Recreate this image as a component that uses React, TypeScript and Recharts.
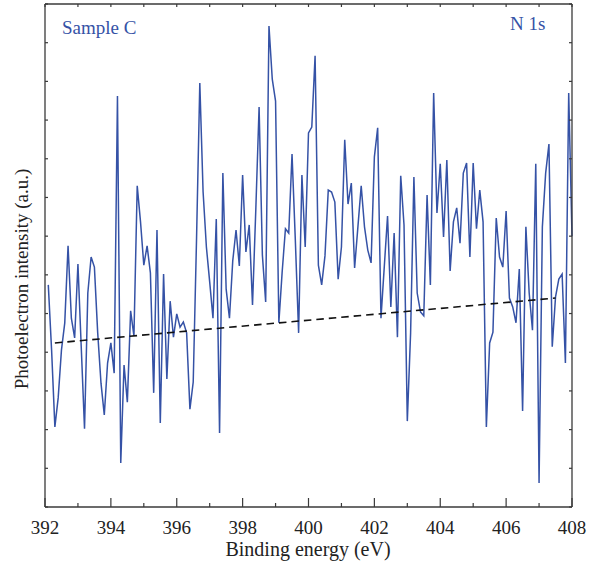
import { LineChart, Line, XAxis, YAxis } from "recharts"

// N 1s scan, 392.1 → 408.0 eV in 0.1 eV steps
const startEnergy = 392.1
const stepEnergy = 0.1
const intensity = [
  57.4, 40.6, 20.7, 28.2, 40.6, 47.6, 67.5, 48.8, 43.7, 62.8,
  41.4, 20.2, 55.3, 64.6, 62.0, 45.0, 32.0, 23.8, 37.2, 42.4,
  34.6, 106.2, 11.4, 36.7, 27.1, 50.7, 44.2, 83.0, 73.7, 62.5,
  67.5, 60.5, 29.5, 71.6, 21.7, 60.2, 33.1, 53.2, 43.9, 49.9,
  46.5, 47.8, 45.0, 25.3, 32.3, 69.0, 109.6, 81.4, 67.2, 58.2,
  48.8, 74.4, 19.1, 86.3, 56.3, 48.8, 63.6, 71.6, 62.3, 85.8,
  65.9, 72.9, 52.2, 76.8, 103.4, 65.1, 53.0, 124.3, 110.6, 104.9,
  47.6, 60.7, 71.9, 70.8, 91.2, 69.0, 45.0, 85.8, 67.2, 96.7,
  98.2, 116.6, 62.5, 57.4, 64.9, 81.9, 81.4, 78.8, 58.9, 67.2,
  94.9, 78.3, 83.7, 61.8, 72.4, 83.0, 72.4, 66.4, 63.1, 90.5,
  98.0, 48.8, 62.0, 75.2, 51.7, 70.8, 43.9, 85.6, 72.9, 22.2,
  45.0, 85.3, 55.3, 50.4, 49.4, 80.6, 57.4, 107.0, 76.0, 88.7,
  69.8, 89.7, 61.0, 73.7, 77.3, 68.2, 86.3, 88.9, 64.6, 88.9,
  71.9, 81.9, 73.7, 20.7, 42.4, 45.2, 74.7, 64.6, 62.0, 76.5,
  54.0, 51.7, 47.6, 61.5, 24.8, 72.4, 55.3, 45.7, 88.7, 6.2,
  72.4, 86.3, 93.8, 41.4, 54.3, 58.9, 60.2, 37.2, 107.0, 70.0,
]

// linear background under the peak region
const baselineEnergy = [392.3, 407.5]
const baselineValue = [42.4, 54.0]

const xTicks = [392, 393, 394, 395, 396, 397, 398, 399, 400, 401, 402, 403, 404, 405, 406, 407, 408]
const yTicks = [0, 10, 20, 30, 40, 50, 60, 70, 80, 90, 100, 110, 120, 130]

const data = intensity.map((v, i) => ({
  e: Number((startEnergy + i * stepEnergy).toFixed(1)),
  v,
}))
const baseline = baselineEnergy.map((e, i) => ({ e, v: baselineValue[i] }))

const FRAME = "#3a3a3a"
const BLUE = "#3552a6"
const FONT = "'Times New Roman', 'Liberation Serif', 'DejaVu Serif', 'Noto Serif', serif"

function BottomTick({ x, y, payload }: any) {
  const major = payload.value % 2 === 0
  return (
    <g>
      <line x1={x} x2={x} y1={y} y2={y - (major ? 9 : 4)} stroke={FRAME} strokeWidth={1.2} />
      {major && (
        <text x={x} y={y + 27} textAnchor="middle" fontSize={19} fontFamily={FONT} fill="#222">
          {payload.value}
        </text>
      )}
    </g>
  )
}

function TopTick({ x, y }: any) {
  return <line x1={x} x2={x} y1={y} y2={y + 3} stroke={FRAME} strokeWidth={1.2} />
}

function LeftTick({ x, y }: any) {
  return <line x1={x} x2={x + 3} y1={y} y2={y} stroke={FRAME} strokeWidth={1.2} />
}

function RightTick({ x, y }: any) {
  return <line x1={x} x2={x - 3} y1={y} y2={y} stroke={FRAME} strokeWidth={1.2} />
}

export default function App() {
  return (
    <div style={{ position: "absolute", left: 0, top: 0, width: 597, height: 574, background: "#fff", fontFamily: FONT }}>
      <LineChart width={597} height={574} data={data} margin={{ top: 3, right: 24, left: 44, bottom: 0 }}>
        <XAxis
          dataKey="e" type="number" domain={[392, 408]} ticks={xTicks} interval={0}
          height={67} tickSize={0} tickMargin={0} tickLine={false}
          axisLine={{ stroke: FRAME, strokeWidth: 1.3 }} tick={<BottomTick />}
        />
        <XAxis
          xAxisId="top" orientation="top" dataKey="e" type="number" domain={[392, 408]} ticks={xTicks} interval={0}
          height={1} tickSize={0} tickMargin={0} tickLine={false}
          axisLine={{ stroke: FRAME, strokeWidth: 1.3 }} tick={<TopTick />}
        />
        <YAxis
          type="number" domain={[0, 130]} ticks={yTicks} interval={0}
          width={1} tickSize={0} tickMargin={0} tickLine={false}
          axisLine={{ stroke: FRAME, strokeWidth: 1.3 }} tick={<LeftTick />}
        />
        <YAxis
          yAxisId="right" orientation="right" type="number" domain={[0, 130]} ticks={yTicks} interval={0}
          width={1} tickSize={0} tickMargin={0} tickLine={false}
          axisLine={{ stroke: FRAME, strokeWidth: 1.3 }} tick={<RightTick />}
        />
        <Line
          dataKey="v" stroke={BLUE} strokeWidth={1.5} dot={false}
          isAnimationActive={false} type="linear"
        />
        <Line
          data={baseline} dataKey="v" stroke="#111" strokeWidth={1.6} strokeDasharray="7.5 5"
          dot={false} isAnimationActive={false} type="linear"
        />
        {/* invisible series so the mirrored top/right axes get drawn */}
        <Line
          xAxisId="top" yAxisId="right" data={baseline} dataKey="v" stroke="none"
          dot={false} activeDot={false} isAnimationActive={false} legendType="none"
        />
      </LineChart>

      <div style={{ position: "absolute", left: 62, top: 17, fontSize: 19, color: BLUE }}>Sample C</div>
      <div style={{ position: "absolute", left: 510, top: 13, fontSize: 19, color: BLUE }}>N 1s</div>
      <div
        style={{
          position: "absolute", left: 22, top: 279, fontSize: 19, color: "#222", whiteSpace: "nowrap",
          transform: "translate(-50%, -50%) rotate(-90deg)",
        }}
      >
        Photoelectron intensity (a.u.)
      </div>
      <div
        style={{
          position: "absolute", left: 308, top: 549, fontSize: 20, color: "#222", whiteSpace: "nowrap",
          transform: "translate(-50%, -50%)",
        }}
      >
        Binding energy (eV)
      </div>
    </div>
  )
}
